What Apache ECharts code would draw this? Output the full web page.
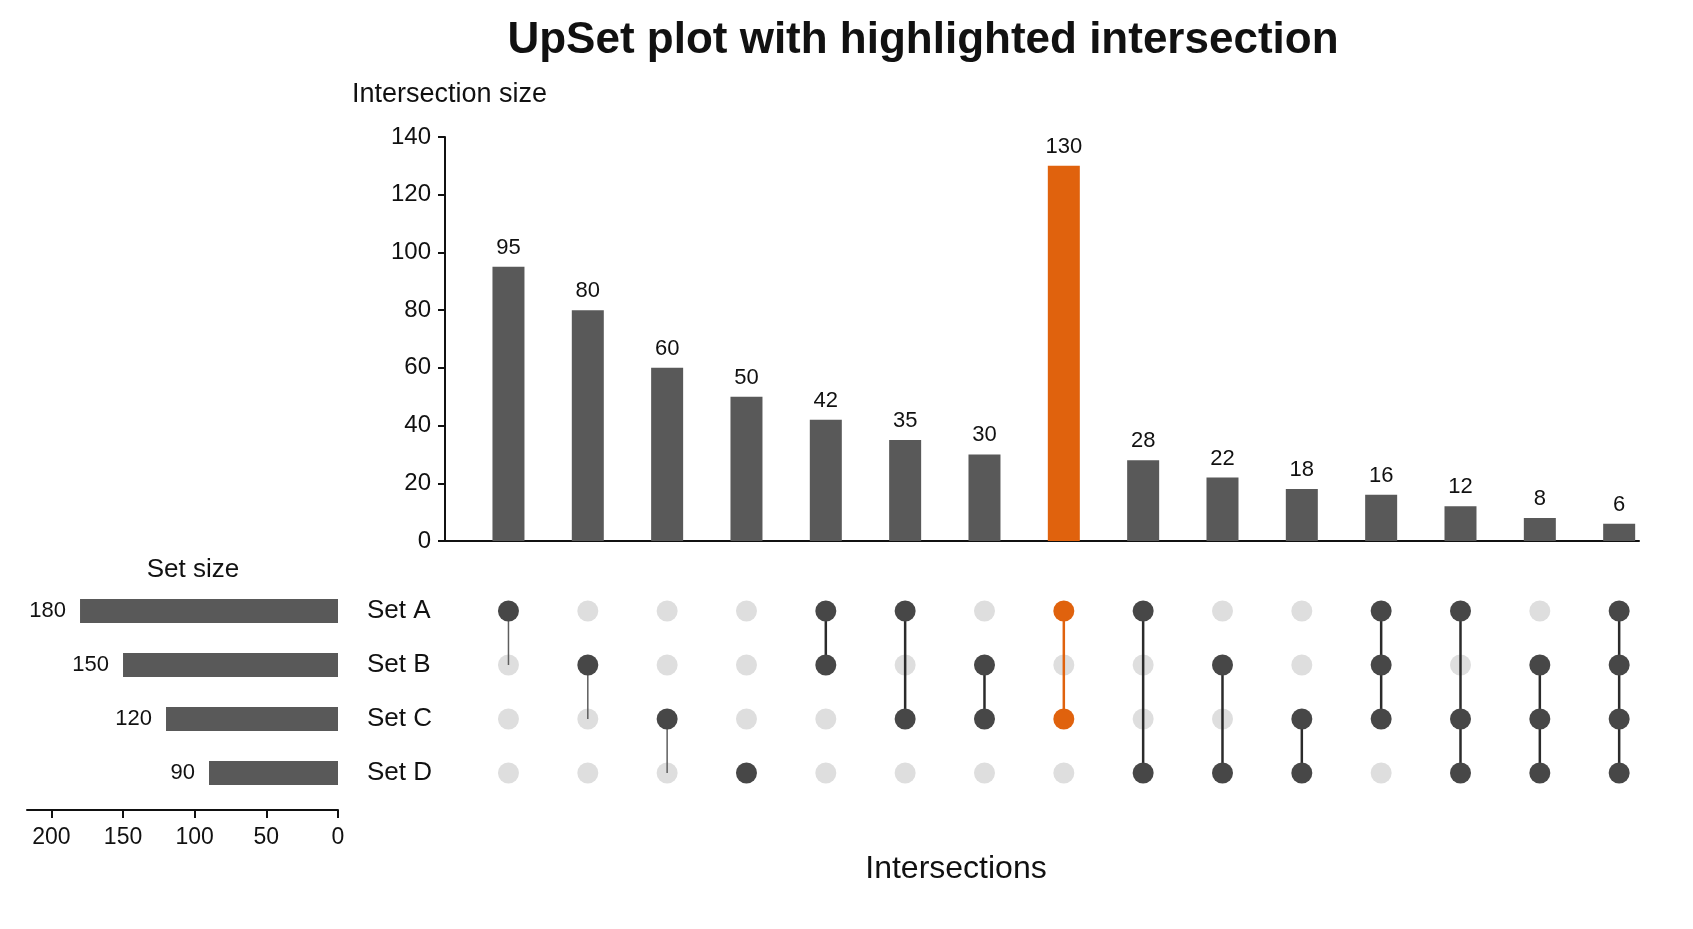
<!DOCTYPE html>
<html>
<head>
<meta charset="utf-8">
<title>UpSet plot</title>
<script src="https://cdn.jsdelivr.net/npm/echarts@6/dist/echarts.min.js"></script>
<style>
  html, body { margin: 0; padding: 0; background: #fff; }
  #chart { width: 1693px; height: 929px; }
</style>
</head>
<body>
<div id="chart"></div>
<script>
    // data
    var sets = ['Set A', 'Set B', 'Set C', 'Set D'];
    var setSizes = [180, 150, 120, 90];
    var setSizeTicks = [0, 50, 100, 150, 200];
    var intersectionSizes = [95, 80, 60, 50, 42, 35, 30, 130, 28, 22, 18, 16, 12, 8, 6];
    // row indexes (0 = Set A) that are part of each intersection
    var memberships = [[0], [1], [2], [3], [0, 1], [0, 2], [1, 2], [0, 2], [0, 3], [1, 3], [2, 3],
        [0, 1, 2], [0, 2, 3], [1, 2, 3], [0, 1, 2, 3]];
    var highlightIndex = 7;
    // faint connector stubs that show under the single-set columns
    var stubLinks = [[0, 0, 1], [1, 1, 2], [2, 2, 3]];

    var font = "'Liberation Sans', Arial, Helvetica, sans-serif";
    var barColor = '#595959';
    var dotDark = '#474747';
    var dotLight = '#dedede';
    var orange = '#e0620d';

    function extend(a, b) {
        for (var k in b) if (b.hasOwnProperty(k)) a[k] = b[k];
        return a;
    }

    var lightDots = [], darkDots = [], hiDots = [];
    var links = [], hiLinks = [];
    memberships.forEach(function (rows, i) {
        for (var r = 0; r < sets.length; r++) {
            if (rows.indexOf(r) < 0) {
                lightDots.push([i, r]);
            } else if (i === highlightIndex) {
                hiDots.push([i, r]);
            } else {
                darkDots.push([i, r]);
            }
        }
        if (rows.length > 1) {
            var link = [i, Math.min.apply(null, rows), Math.max.apply(null, rows)];
            (i === highlightIndex ? hiLinks : links).push(link);
        }
    });

    function linkRenderer(color, width) {
        return function (params, api) {
            var p1 = api.coord([api.value(0), api.value(1)]);
            var p2 = api.coord([api.value(0), api.value(2)]);
            return {
                type: 'line',
                shape: {x1: p1[0], y1: p1[1], x2: p2[0], y2: p2[1]},
                style: {stroke: color, lineWidth: width}
            };
        };
    }

    var textStyle = {fontFamily: font, fill: '#111'};

    var option = {
        animation: false,
        backgroundColor: '#ffffff',
        textStyle: {fontFamily: font},
        graphic: [
            {type: 'text', x: 923, y: 41, style: extend({text: 'UpSet plot with highlighted intersection', fontSize: 44, fontWeight: 'bold', align: 'center', verticalAlign: 'middle'}, textStyle)},
            {type: 'text', x: 352, y: 95, style: extend({text: 'Intersection size', fontSize: 27, align: 'left', verticalAlign: 'middle'}, textStyle)},
            {type: 'text', x: 193, y: 570, style: extend({text: 'Set size', fontSize: 26, align: 'center', verticalAlign: 'middle'}, textStyle)},
            {type: 'text', x: 956, y: 869, style: extend({text: 'Intersections', fontSize: 32, align: 'center', verticalAlign: 'middle'}, textStyle)}
        ],
        grid: [
            {left: 445, width: 1194, top: 137, height: 404},
            {left: 445, width: 1194, top: 584, height: 216},
            {left: 27, width: 311, top: 584, height: 216}
        ],
        xAxis: [
            {
                gridIndex: 0, type: 'value', min: -0.8, max: 14.25,
                axisLine: {show: true, lineStyle: {color: '#111', width: 2}},
                axisTick: {show: false}, axisLabel: {show: false}, splitLine: {show: false}
            },
            {
                gridIndex: 1, type: 'value', min: -0.8, max: 14.25, show: false
            },
            {
                gridIndex: 2, type: 'value', inverse: true, min: 0, max: 217, offset: 10,
                axisLine: {show: true, lineStyle: {color: '#111', width: 2}},
                axisTick: {show: true, length: 8, customValues: setSizeTicks, lineStyle: {color: '#111', width: 2}},
                axisLabel: {customValues: setSizeTicks, color: '#111', fontSize: 23, margin: 16},
                splitLine: {show: false}
            }
        ],
        yAxis: [
            {
                gridIndex: 0, type: 'value', min: 0, max: 140, interval: 20,
                axisLine: {show: true, onZero: false, lineStyle: {color: '#111', width: 2}},
                axisTick: {show: true, length: 7, lineStyle: {color: '#111', width: 2}},
                axisLabel: {color: '#111', fontSize: 24, margin: 14},
                splitLine: {show: false}
            },
            {
                gridIndex: 1, type: 'category', data: sets, inverse: true,
                axisLine: {show: false}, axisTick: {show: false},
                axisLabel: {color: '#111', fontSize: 26, align: 'left', margin: 78}
            },
            {
                gridIndex: 2, type: 'category', data: sets, inverse: true, show: false
            }
        ],
        series: [
            {
                type: 'bar', xAxisIndex: 0, yAxisIndex: 0, barWidth: 32,
                data: intersectionSizes.map(function (v, i) {
                    return {value: [i, v], itemStyle: {color: i === highlightIndex ? orange : barColor}};
                }),
                label: {
                    show: true, position: 'top', distance: 8, color: '#111', fontSize: 22,
                    formatter: function (p) { return p.value[1]; }
                }
            },
            {
                type: 'scatter', xAxisIndex: 1, yAxisIndex: 1, symbolSize: 21, z: 2,
                itemStyle: {color: dotLight, opacity: 1}, data: lightDots
            },
            {
                type: 'custom', xAxisIndex: 1, yAxisIndex: 1, z: 3,
                renderItem: linkRenderer('#5e5e5e', 1.5), data: stubLinks
            },
            {
                type: 'custom', xAxisIndex: 1, yAxisIndex: 1, z: 3,
                renderItem: linkRenderer('#2b2b2b', 2.5), data: links
            },
            {
                type: 'custom', xAxisIndex: 1, yAxisIndex: 1, z: 3,
                renderItem: linkRenderer(orange, 2.5), data: hiLinks
            },
            {
                type: 'scatter', xAxisIndex: 1, yAxisIndex: 1, symbolSize: 21, z: 4,
                itemStyle: {color: dotDark, opacity: 1}, data: darkDots
            },
            {
                type: 'scatter', xAxisIndex: 1, yAxisIndex: 1, symbolSize: 21, z: 4,
                itemStyle: {color: orange, opacity: 1}, data: hiDots
            },
            {
                type: 'bar', xAxisIndex: 2, yAxisIndex: 2, barWidth: 24,
                itemStyle: {color: barColor},
                data: setSizes,
                label: {show: true, position: 'left', distance: 14, color: '#111', fontSize: 22}
            }
        ]
    };

    var chart = echarts.init(document.getElementById('chart'));
    chart.setOption(option);
</script>
</body>
</html>
